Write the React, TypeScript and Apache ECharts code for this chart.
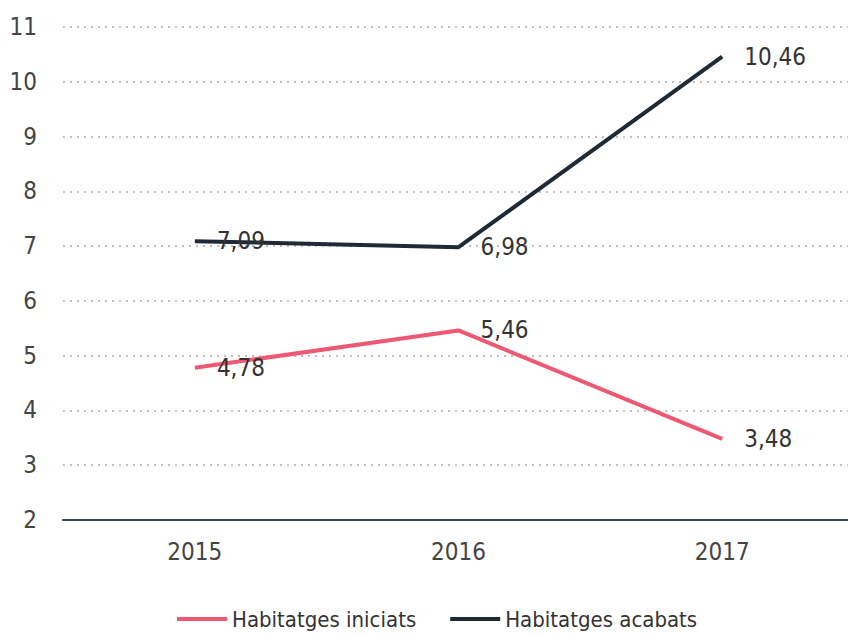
import React, { useEffect, useRef } from "react";
import * as echarts from "echarts";

const years = ["2015", "2016", "2017"];
const iniciats = [4.78, 5.46, 3.48];
const acabats = [7.09, 6.98, 10.46];
const seriesNames = ["Habitatges iniciats", "Habitatges acabats"];

const FONT = "'DejaVu Sans Condensed', 'Liberation Sans Narrow', sans-serif";

export default function App() {
  const ref = useRef<HTMLDivElement>(null);
  useEffect(() => {
    if (!ref.current) return;
    const chart = echarts.init(ref.current, null, { renderer: "svg" });
    const fmt = (p: any) => String(p.value).replace(".", ",");
    const label = {
      show: true,
      position: "right",
      distance: 22,
      fontSize: 24,
      color: "#333",
      fontFamily: FONT,
      formatter: fmt,
    };
    chart.setOption({
      animation: false,
      grid: { left: 63, top: 27, right: -6, height: 493, outerBoundsMode: "none", containLabel: false },
      legend: {
        bottom: 1,
        left: 172,
        icon: "rect",
        itemWidth: 50,
        itemHeight: 4,
        itemGap: 34,
        textStyle: { fontSize: 22, color: "#333", fontFamily: FONT },
        data: seriesNames,
      },
      xAxis: {
        type: "category",
        data: years,
        boundaryGap: true,
        axisLine: { lineStyle: { color: "#3a4650", width: 2 } },
        axisTick: { show: false },
        axisLabel: { fontSize: 24, color: "#444", margin: 20, fontFamily: FONT },
      },
      yAxis: {
        type: "value",
        min: 2,
        max: 11,
        interval: 1,
        axisLine: { show: false },
        axisTick: { show: false },
        axisLabel: { fontSize: 24, color: "#444", margin: 26, fontFamily: FONT },
        splitLine: { lineStyle: { type: [2, 5], color: "#aaa", width: 1.5 } },
      },
      series: [
        {
          name: seriesNames[0],
          type: "line",
          data: iniciats,
          color: "#EF5872",
          showSymbol: true,
          symbol: "circle",
          symbolSize: 0.1,
          lineStyle: { width: 4, color: "#EF5872" },
          label,
        },
        {
          name: seriesNames[1],
          type: "line",
          data: acabats,
          color: "#1E2B36",
          showSymbol: true,
          symbol: "circle",
          symbolSize: 0.1,
          lineStyle: { width: 4, color: "#1E2B36" },
          label,
        },
      ],
    });
    return () => chart.dispose();
  }, []);
  return (
    <div
      ref={ref}
      style={{ position: "fixed", left: 0, top: 0, width: 848, height: 636, background: "#fff" }}
    />
  );
}
